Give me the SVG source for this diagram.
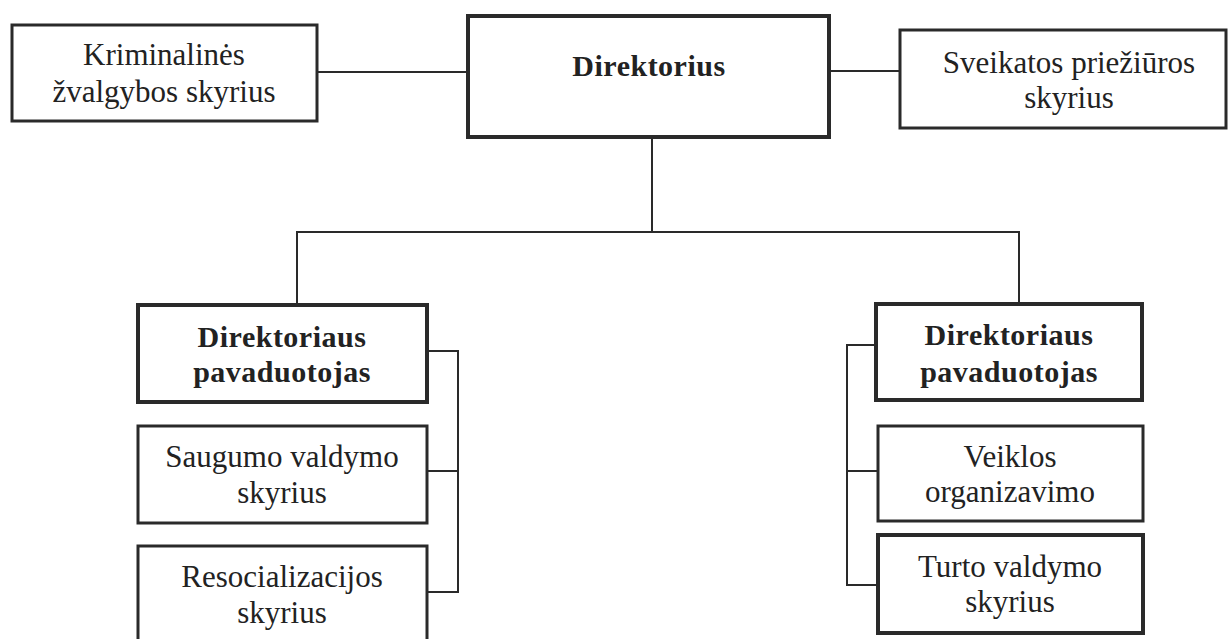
<svg xmlns="http://www.w3.org/2000/svg" width="1229" height="639" viewBox="0 0 1229 639">
<style>
.box{fill:#fff;stroke:#2a2a2a;stroke-width:3}
.thick{stroke-width:4}
.t{font-family:"Liberation Serif","Times New Roman",serif;font-size:31px;fill:#222;text-anchor:middle}
.b{font-weight:bold;font-size:30px;letter-spacing:0.5px}
.c{fill:none;stroke:#2a2a2a;stroke-width:2}
</style>
<rect width="1229" height="639" fill="#fff"/>
<g id="connectors">
<line class="c" x1="317" y1="72" x2="467" y2="72"/>
<line class="c" x1="829" y1="71" x2="899" y2="71"/>
<line class="c" x1="652" y1="138" x2="652" y2="232"/>
<polyline class="c" points="297,304 297,232 1019,232 1019,303"/>
<polyline class="c" points="427,351 458,351 458,592 427,592"/>
<line class="c" x1="427" y1="471" x2="458" y2="471"/>
<polyline class="c" points="876,345 847,345 847,585 878,585"/>
<line class="c" x1="847" y1="471" x2="878" y2="471"/>
</g>
<g id="kriminalines">
<rect class="box" x="12" y="25" width="305" height="96"/>
<text class="t" x="164" y="65">Kriminalinės</text>
<text class="t" x="164" y="102">žvalgybos skyrius</text>
</g>
<g id="direktorius">
<rect class="box thick" x="468" y="16" width="361" height="121"/>
<text class="t b" x="649" y="76">Direktorius</text>
</g>
<g id="sveikatos">
<rect class="box" x="900" y="30" width="326" height="98"/>
<text class="t" x="1069" y="73">Sveikatos priežiūros</text>
<text class="t" x="1069" y="108">skyrius</text>
</g>
<g id="pavaduotojas-kaire">
<rect class="box thick" x="138" y="305" width="289" height="97"/>
<text class="t b" x="282" y="347">Direktoriaus</text>
<text class="t b" x="282" y="382">pavaduotojas</text>
</g>
<g id="saugumo">
<rect class="box" x="138" y="426" width="289" height="97"/>
<text class="t" x="282" y="467">Saugumo valdymo</text>
<text class="t" x="282" y="503">skyrius</text>
</g>
<g id="resocializacijos">
<rect class="box" x="138" y="546" width="289" height="110"/>
<text class="t" x="282" y="587">Resocializacijos</text>
<text class="t" x="282" y="623">skyrius</text>
</g>
<g id="pavaduotojas-desine">
<rect class="box thick" x="876" y="304" width="266" height="96"/>
<text class="t b" x="1009" y="345">Direktoriaus</text>
<text class="t b" x="1009" y="382">pavaduotojas</text>
</g>
<g id="veiklos">
<rect class="box" x="878" y="426" width="265" height="95"/>
<text class="t" x="1010" y="467">Veiklos</text>
<text class="t" x="1010" y="502">organizavimo</text>
</g>
<g id="turto">
<rect class="box thick" x="878" y="535" width="265" height="98"/>
<text class="t" x="1010" y="577">Turto valdymo</text>
<text class="t" x="1010" y="612">skyrius</text>
</g>
</svg>
